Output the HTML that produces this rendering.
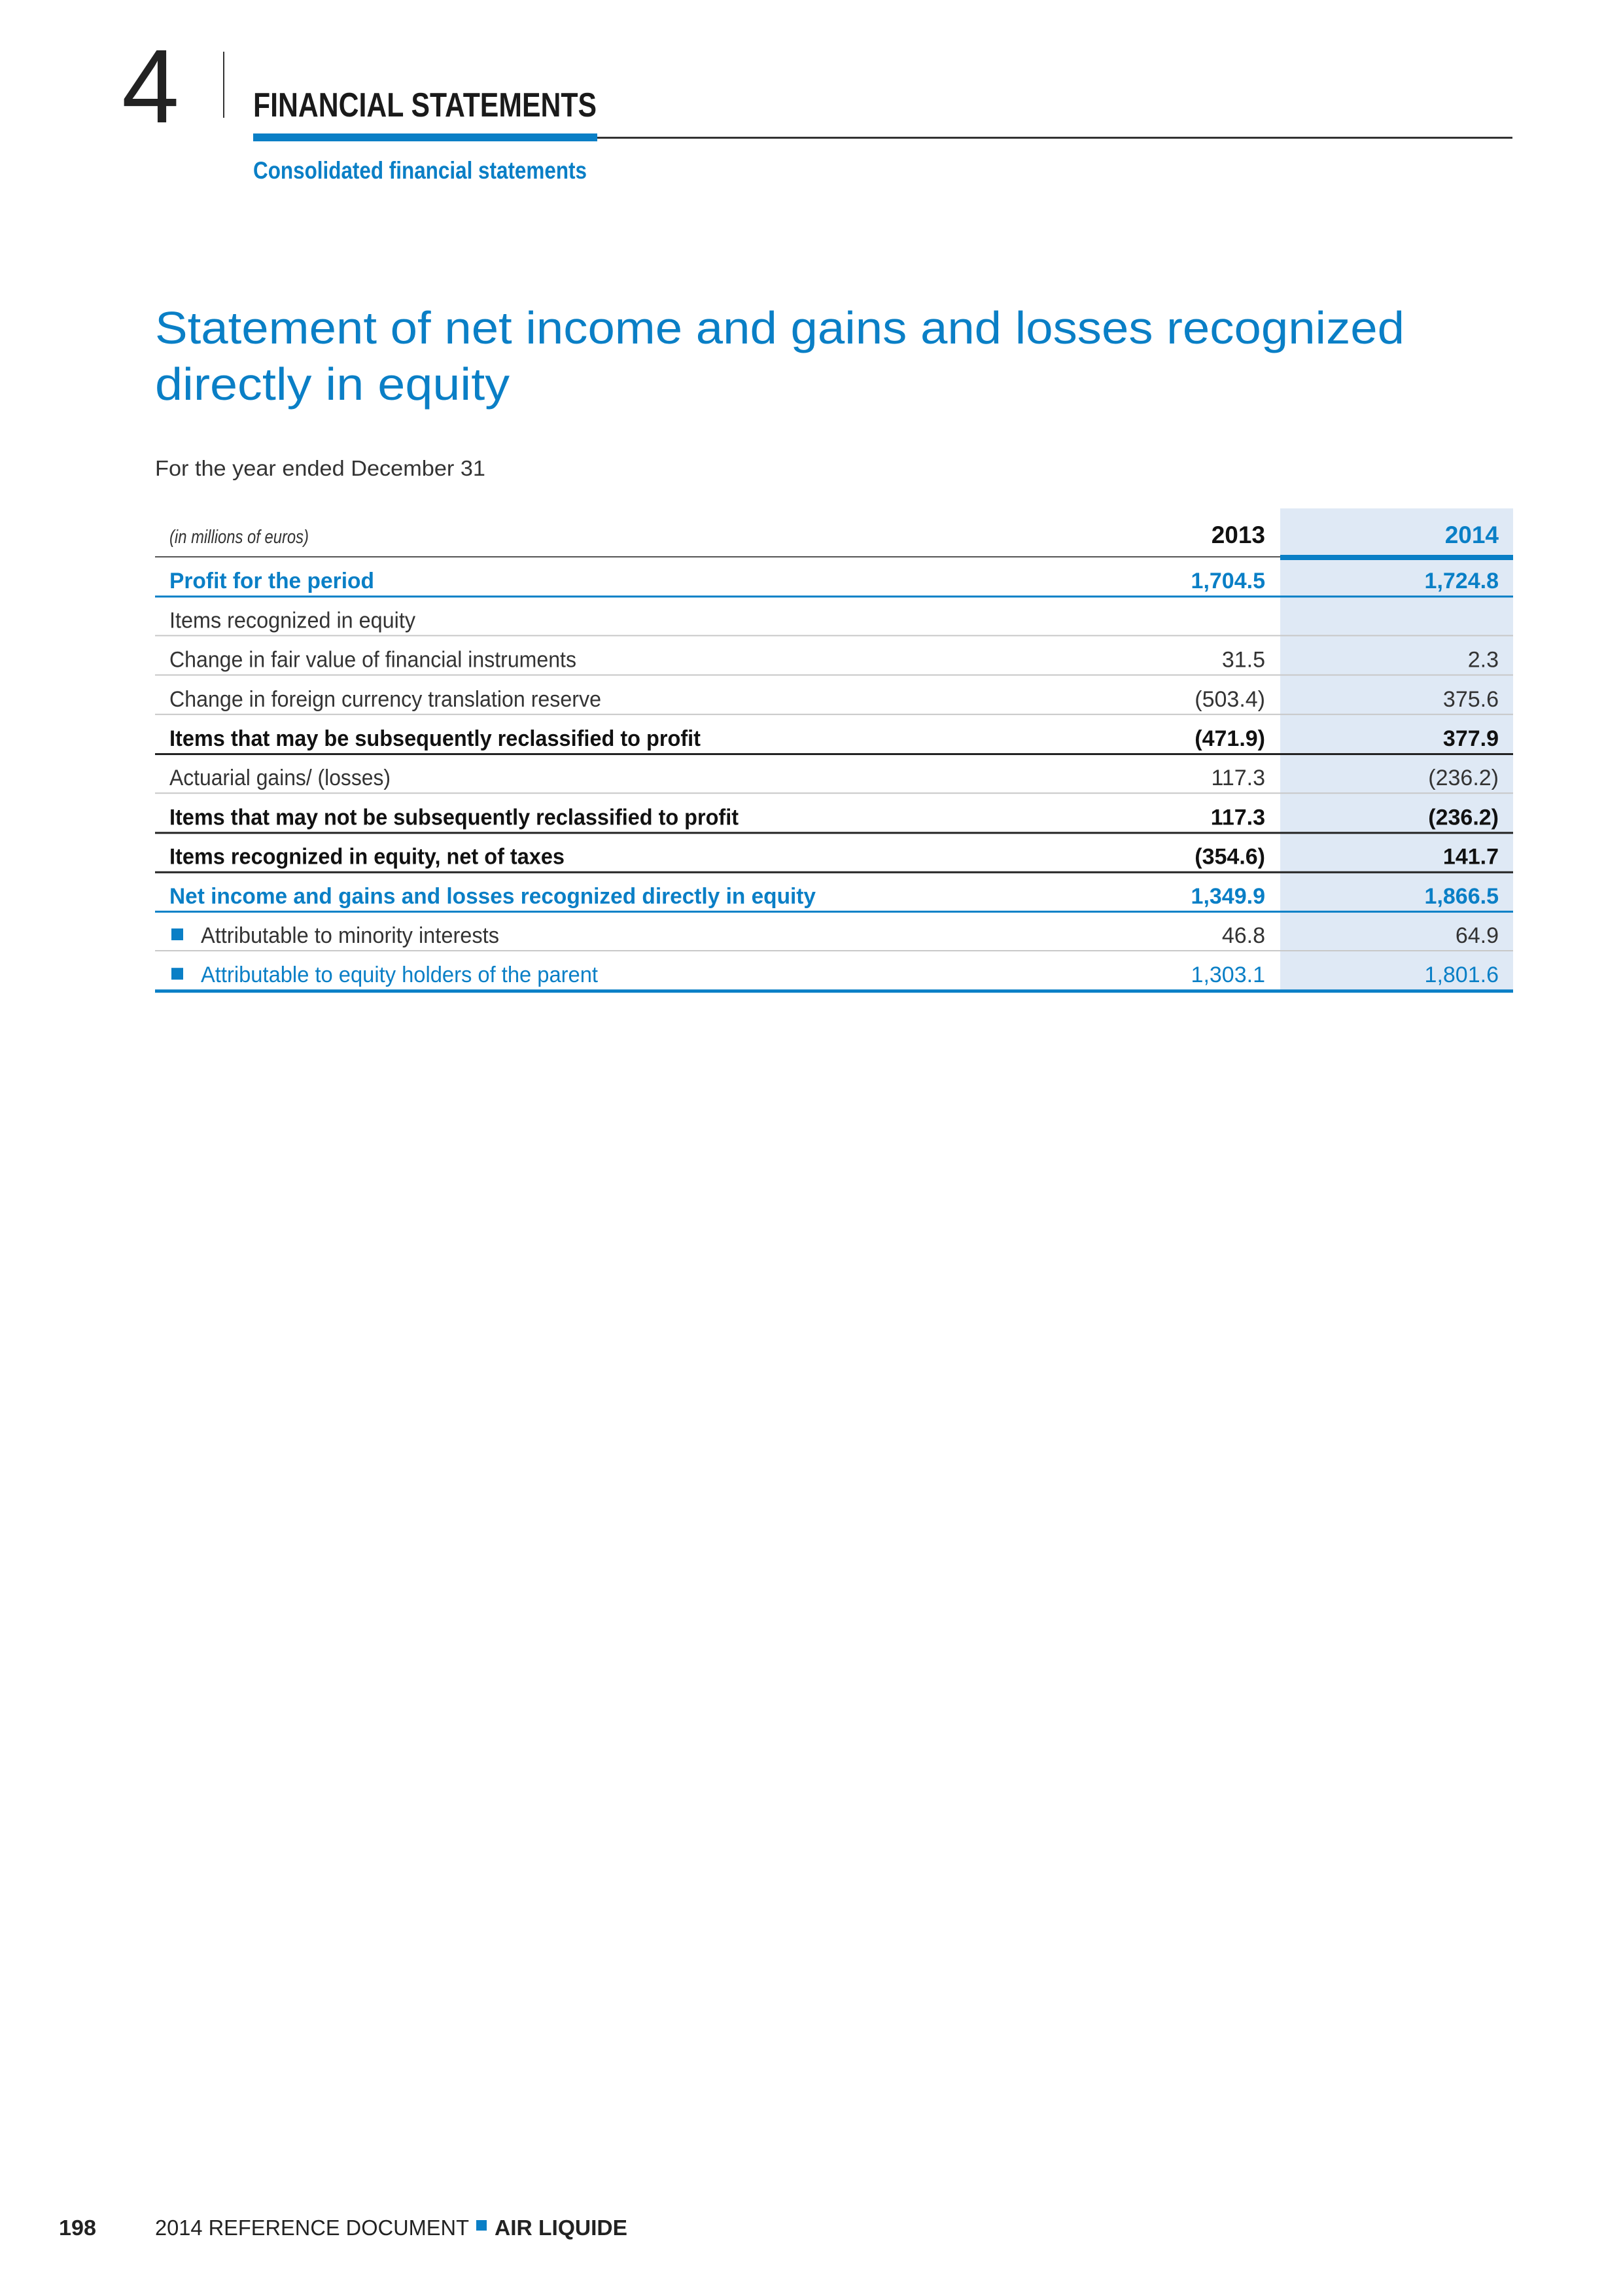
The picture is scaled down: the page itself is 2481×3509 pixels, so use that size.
<!DOCTYPE html>
<html><head><meta charset="utf-8"><style>
html,body{margin:0;padding:0;background:#fff}
svg{display:block}
text{font-family:"Liberation Sans",sans-serif}
</style></head><body>
<svg width="2481" height="3509" viewBox="0 0 2481 3509" xmlns="http://www.w3.org/2000/svg">
<rect width="2481" height="3509" fill="#fff"/>
<g>
<text x="186" y="187" font-size="160" fill="#222" font-weight="normal" textLength="88" lengthAdjust="spacingAndGlyphs">4</text>
<rect x="341" y="79" width="2" height="101" fill="#333"/>
<text x="387" y="178" font-size="52" font-weight="bold" fill="#1a1a1a" textLength="525" lengthAdjust="spacingAndGlyphs">FINANCIAL STATEMENTS</text>
<rect x="387" y="204" width="526" height="12" fill="#0a7fc6"/>
<rect x="913" y="209" width="1399" height="3" fill="#333"/>
<text x="387" y="273" font-size="37" font-weight="bold" fill="#0a7fc6" textLength="510" lengthAdjust="spacingAndGlyphs">Consolidated financial statements</text>
</g>
<g>
<text x="237" y="525" font-size="70" fill="#0a7fc6" textLength="1910" lengthAdjust="spacingAndGlyphs">Statement of net income and gains and losses recognized</text>
<text x="237" y="611" font-size="70" fill="#0a7fc6" textLength="542" lengthAdjust="spacingAndGlyphs">directly in equity</text>
</g>
<text x="237" y="727" font-size="33" fill="#333" textLength="505" lengthAdjust="spacingAndGlyphs">For the year ended December 31</text>
<g id="table"></g>
<g>
<text x="90" y="3416" font-size="33" font-weight="bold" fill="#222" textLength="57" lengthAdjust="spacingAndGlyphs">198</text>
<text x="237" y="3416" font-size="33" fill="#222" textLength="480" lengthAdjust="spacingAndGlyphs">2014 REFERENCE DOCUMENT</text>
<rect x="728" y="3393" width="16" height="16" fill="#0a7fc6"/>
<text x="756" y="3416" font-size="33" font-weight="bold" fill="#222" textLength="203" lengthAdjust="spacingAndGlyphs">AIR LIQUIDE</text>
</g>
</svg>
<script>
const labels=["Profit for the period","Items recognized in equity","Change in fair value of financial instruments","Change in foreign currency translation reserve","Items that may be subsequently reclassified to profit","Actuarial gains/ (losses)","Items that may not be subsequently reclassified to profit","Items recognized in equity, net of taxes","Net income and gains and losses recognized directly in equity","Attributable to minority interests","Attributable to equity holders of the parent"];
const values2013=["1,704.5","","31.5","(503.4)","(471.9)","117.3","117.3","(354.6)","1,349.9","46.8","1,303.1"];
const values2014=["1,724.8","","2.3","375.6","377.9","(236.2)","(236.2)","141.7","1,866.5","64.9","1,801.6"];
const styles=["blue","normal","normal","normal","bold","normal","bold","bold","blue","bullet","bulletblue"];
const labelWidths=[313,376,622,660,812,338,870,604,988,456,607];
(function(){
const NS="http://www.w3.org/2000/svg";
const g=document.getElementById('table');
const L=237,R=2313,C1=1957,X13=1934,X14=2291,top0=851,pitch=60.2;
const BLUE="#0a7fc6";
function el(t,a){const e=document.createElementNS(NS,t);for(const k in a)e.setAttribute(k,a[k]);g.appendChild(e);return e;}
const n=labels.length;
const bg=el('rect',{x:C1,y:777,width:R-C1,height:top0+n*pitch-777+3,fill:"#dfe9f5"});


let t=el('text',{x:259,y:830,'font-size':29,'font-style':'italic',fill:'#333',textLength:213,lengthAdjust:'spacingAndGlyphs'});t.textContent="(in millions of euros)";


t=el('text',{x:X13,y:830,'font-size':37,'font-weight':'bold',fill:'#111','text-anchor':'end'});t.textContent="2013";


t=el('text',{x:X14,y:830,'font-size':37,'font-weight':'bold',fill:BLUE,'text-anchor':'end'});t.textContent="2014";


el('rect',{x:L,y:850,width:C1-L,height:2,fill:'#555'});
el('rect',{x:C1,y:848,width:R-C1,height:8,fill:BLUE});
for(let i=0;i<n;i++){
 const yb=top0+(i+1)*pitch;
 const s=styles[i];
 const isBlue=s==="blue"||s==="bulletblue";
 const bold=s==="blue"||s==="bold";
 const col=isBlue?BLUE:(bold?"#111":"#333");
 const row=el('g',{});
 
 
 let x=259;
 if(s==="bullet"||s==="bulletblue"){el('rect',{x:262,y:yb-34,width:18,height:18,fill:BLUE});x=307;}
 let lt=el('text',{x:x,y:yb-12,'font-size':34,fill:col,'font-weight':bold?'bold':'normal',textLength:labelWidths[i],lengthAdjust:'spacingAndGlyphs'});
 lt.textContent=labels[i];
 
 
 let a=el('text',{x:X13,y:yb-12,'font-size':34,fill:col,'font-weight':bold?'bold':'normal','text-anchor':'end'});
 a.textContent=values2013[i];
 
 
 let b=el('text',{x:X14,y:yb-12,'font-size':34,fill:col,'font-weight':bold?'bold':'normal','text-anchor':'end'});
 b.textContent=values2014[i];
 
 
 let lc="#c8c8c8",lh=2;
 if(s==="bold"){lc="#222";lh=3;}
 if(s==="blue"){lc=BLUE;lh=3;}
 if(i===n-1){lc=BLUE;lh=5;}
 el('rect',{x:L,y:yb-1,width:R-L,height:lh,fill:lc});
}
})();
</script>
</body></html>
